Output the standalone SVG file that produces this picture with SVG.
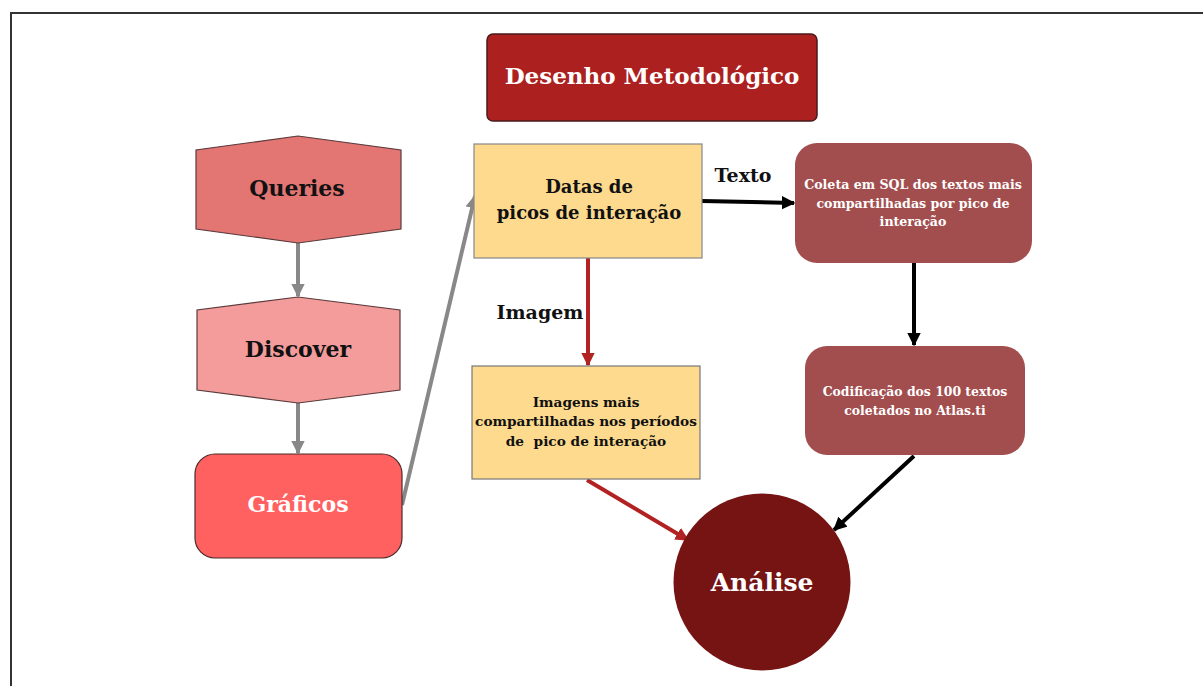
<svg xmlns="http://www.w3.org/2000/svg" width="1203" height="686" viewBox="0 0 1203 686">
<defs>
<style>
.t{font-family:"DejaVu Serif","Liberation Serif",serif;font-weight:bold;text-anchor:middle}
.w{fill:#ffffff}
.k{fill:#111111}
</style>
<marker id="ag" viewBox="0 0 10 10" refX="9" refY="5" markerWidth="3.4" markerHeight="3.4" orient="auto" markerUnits="strokeWidth"><path d="M0,0 L10,5 L0,10 z" fill="#888888"/></marker>
<marker id="ak" viewBox="0 0 10 10" refX="9" refY="5" markerWidth="3.4" markerHeight="3.4" orient="auto" markerUnits="strokeWidth"><path d="M0,0 L10,5 L0,10 z" fill="#000000"/></marker>
<marker id="ar" viewBox="0 0 10 10" refX="9" refY="5" markerWidth="3.4" markerHeight="3.4" orient="auto" markerUnits="strokeWidth"><path d="M0,0 L10,5 L0,10 z" fill="#B22222"/></marker>
</defs>
<rect width="1203" height="686" fill="#ffffff"/>
<path d="M11,686 V13 H1203" fill="none" stroke="#333333" stroke-width="2"/>
<g id="connectors" fill="none">
<line x1="298" y1="243" x2="298" y2="296" stroke="#888888" stroke-width="4" marker-end="url(#ag)"/>
<line x1="298" y1="403" x2="298" y2="453" stroke="#888888" stroke-width="4" marker-end="url(#ag)"/>
<line x1="402" y1="505" x2="475" y2="196" stroke="#888888" stroke-width="4" marker-end="url(#ag)"/>
<line x1="702" y1="201" x2="794" y2="203" stroke="#000000" stroke-width="4" marker-end="url(#ak)"/>
<line x1="914" y1="263" x2="914" y2="345" stroke="#000000" stroke-width="4" marker-end="url(#ak)"/>
<line x1="914" y1="456" x2="834" y2="530" stroke="#000000" stroke-width="4" marker-end="url(#ak)"/>
<line x1="588" y1="258" x2="588" y2="365" stroke="#B22222" stroke-width="4" marker-end="url(#ar)"/>
<line x1="587" y1="480" x2="688" y2="540" stroke="#B22222" stroke-width="4" marker-end="url(#ar)"/>
</g>
<text class="t k" x="743" y="182" font-size="19">Texto</text>
<text class="t k" x="540" y="319" font-size="19">Imagem</text>
<g id="title">
<rect x="487" y="34" width="330" height="87" rx="6" fill="#AD2020" stroke="#4a1a1a" stroke-width="1.5"/>
<text class="t w" x="652" y="84" font-size="23">Desenho Metodológico</text>
</g>
<g id="queries">
<polygon points="298,136 196,150 196,229 298,243 401,229 401,150" fill="#E37573" stroke="#5a3a3a" stroke-width="1.2"/>
<text class="t k" x="297" y="196" font-size="22">Queries</text>
</g>
<g id="discover">
<polygon points="298,297 197,310 197,390 298,403 400,390 400,310" fill="#F49B9B" stroke="#5a3a3a" stroke-width="1.2"/>
<text class="t k" x="298" y="357" font-size="22">Discover</text>
</g>
<g id="graficos">
<rect x="195" y="454" width="207" height="104" rx="20" fill="#FF6161" stroke="#4a2a2a" stroke-width="1.2"/>
<text class="t w" x="298" y="512" font-size="22">Gráficos</text>
</g>
<g id="datas">
<rect x="474" y="144" width="228" height="114" fill="#FDDA8E" stroke="#888888" stroke-width="1.2"/>
<text class="t k" x="589" y="193" font-size="18">Datas de</text>
<text class="t k" x="589" y="219" font-size="18">picos de interação</text>
</g>
<g id="coleta">
<rect x="795" y="143" width="237" height="120" rx="22" fill="#A34E4E"/>
<text class="t w" x="913" y="189" font-size="12.6">Coleta em SQL dos textos mais</text>
<text class="t w" x="913" y="208" font-size="12.6">compartilhadas por pico de</text>
<text class="t w" x="913" y="226" font-size="12.6">interação</text>
</g>
<g id="codificacao">
<rect x="805" y="346" width="220" height="109" rx="22" fill="#A34E4E"/>
<text class="t w" x="915" y="396" font-size="12.4">Codificação dos 100 textos</text>
<text class="t w" x="915" y="415" font-size="12.4">coletados no Atlas.ti</text>
</g>
<g id="imagens">
<rect x="472" y="366" width="228" height="113" fill="#FDDA8E" stroke="#777777" stroke-width="1.2"/>
<text class="t k" x="586" y="407" font-size="13.7">Imagens mais</text>
<text class="t k" x="586" y="426" font-size="13.7">compartilhadas nos períodos</text>
<text class="t k" x="586" y="446" font-size="13.7" xml:space="preserve">de  pico de interação</text>
</g>
<g id="analise">
<circle cx="762" cy="582" r="88.5" fill="#761414"/>
<text class="t w" x="762" y="591" font-size="25">Análise</text>
</g>
</svg>
